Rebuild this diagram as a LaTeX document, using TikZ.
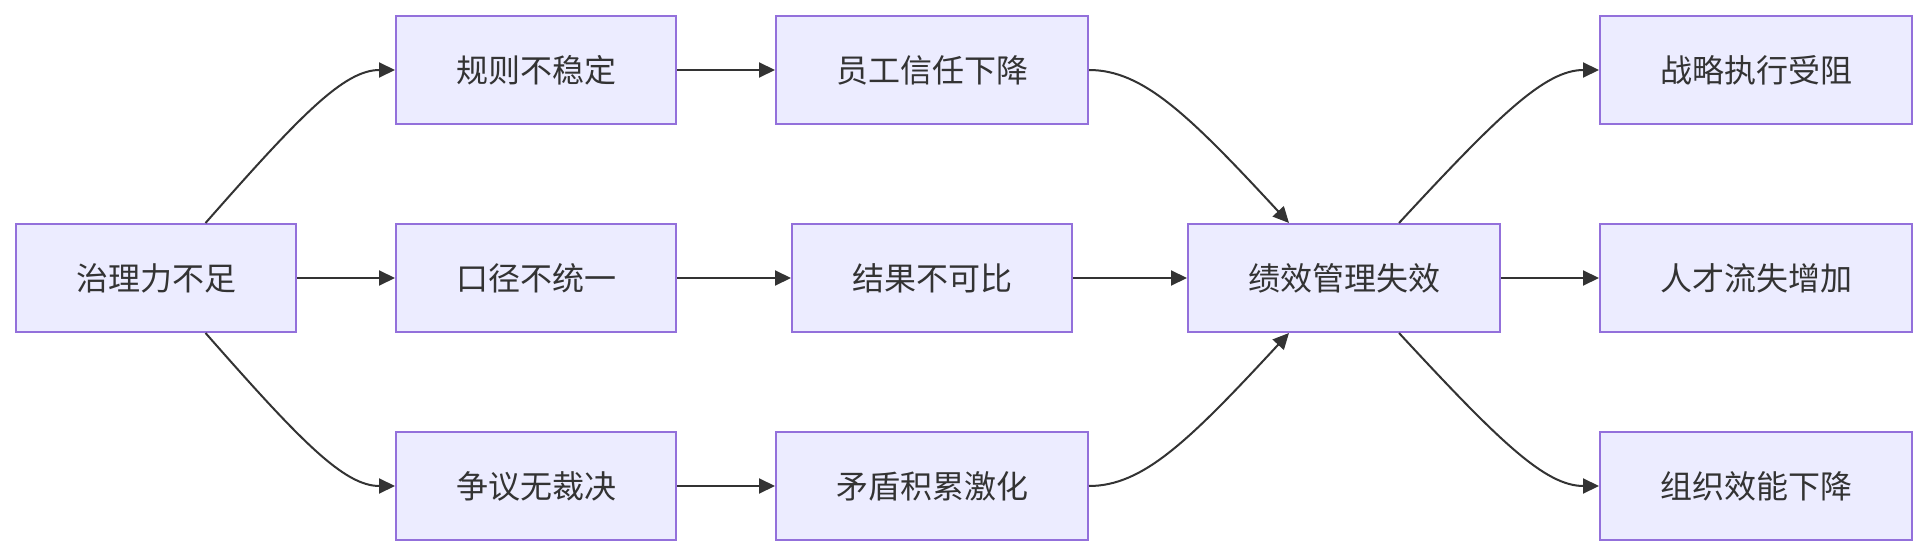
\documentclass[tikz,border=0pt]{standalone}
\usepackage{fontspec}
\newfontfamily\cjk{Noto Sans CJK SC}
\usepackage{tikz}
\usetikzlibrary{arrows.meta}
\definecolor{boxfill}{HTML}{ECECFF}
\definecolor{boxline}{HTML}{9370DB}
\definecolor{ink}{HTML}{333333}
\tikzstyle{box}=[rectangle, draw=boxline, fill=boxfill, line width=1pt, minimum height=54pt, inner sep=0pt, text=ink, font=\cjk\fontsize{16pt}{19pt}\selectfont]
\tikzstyle{narrowbox}=[box, minimum width=140pt]
\tikzstyle{widebox}=[box, minimum width=156pt]
\tikzstyle{edge}=[draw=ink, line width=1pt, -{Triangle[length=8pt,width=7.5pt]}]

\begin{document}
\begin{tikzpicture}[x=0.5pt,y=-0.5pt]
				\useasboundingbox (0,0) rectangle (1928,556);
				\node[narrowbox] (zl) at (156,278) {治理力不足};
				\node[narrowbox] (gz) at (536,70) {规则不稳定};
				\node[narrowbox] (kj) at (536,278) {口径不统一};
				\node[narrowbox] (zy) at (536,486) {争议无裁决};
				\node[widebox] (yg) at (932,70) {员工信任下降};
				\node[narrowbox] (jg) at (932,278) {结果不可比};
				\node[widebox] (md) at (932,486) {矛盾积累激化};
				\node[widebox] (jx) at (1344,278) {绩效管理失效};
				\node[widebox] (zx) at (1756,70) {战略执行受阻};
				\node[widebox] (rc) at (1756,278) {人才流失增加};
				\node[widebox] (zz) at (1756,486) {组织效能下降};
				
				
				\draw[edge] (zl.48) .. controls +(95,-108) and +(-51,0) .. (gz.west);
				\draw[edge] (zl) to (kj);
				\draw[edge] (zl.-48) .. controls +(95,108) and +(-51,0) .. (zy.west);
				\draw[edge] (gz) to (yg);
				\draw[edge] (kj) to (jg);
				\draw[edge] (zy) to (md);
				
				
				\draw[edge] (yg.east) .. controls +(54,0) and +(-100,-108) .. (jx.135.5);
				\draw[edge] (jg) to (jx);
				\draw[edge] (md.east) .. controls +(54,0) and +(-100,108) .. (jx.-135.5);
				\draw[edge] (jx.45) .. controls +(100,-108) and +(-54,0) .. (zx.west);
				\draw[edge] (jx) to (rc);
				\draw[edge] (jx.-45) .. controls +(100,108) and +(-54,0) .. (zz.west);
			\end{tikzpicture}
\end{document}
